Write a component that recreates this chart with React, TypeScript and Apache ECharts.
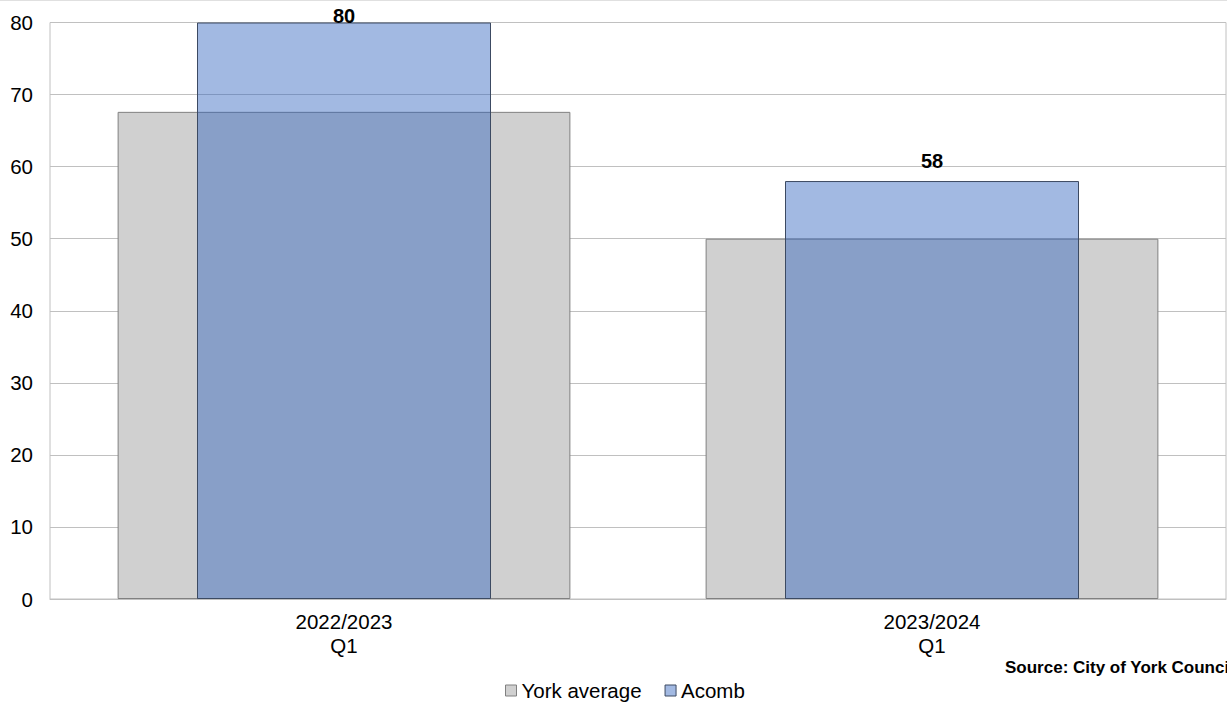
import React, { useEffect, useRef } from "react";
import * as echarts from "echarts";

const categories = ["2022/2023\nQ1", "2023/2024\nQ1"];
const yorkAverage = [67.6, 50];
const acomb = [80, 58];
const yTicks = { min: 0, max: 80, interval: 10 };
const sourceText = "Source: City of York Council";

export default function App() {
  const ref = useRef<HTMLDivElement>(null);
  useEffect(() => {
    const chart = echarts.init(ref.current!, null, { renderer: "svg" });
    const font = "Arial, 'Liberation Sans', sans-serif";
    const acombData = acomb.map((v, i) =>
      i === 0 ? { value: v, label: { position: "insideTop", distance: -17 } } : { value: v }
    );
    chart.setOption({
      animation: false,
      backgroundColor: "#ffffff",
      grid: { left: 50, right: 1, top: 22.5, bottom: 104, show: true, borderColor: "#c0c0c0", borderWidth: 1 },
      legend: {
        top: 680,
        left: 505,
        padding: 0,
        itemWidth: 11,
        itemHeight: 11,
        itemGap: 23,
        textStyle: { fontSize: 20.5, color: "#000", fontFamily: font, padding: [0, 0, 0, 0] },
        data: [
          { name: "York average", icon: "rect", itemStyle: { color: "#d0d0d0", borderColor: "#808080", borderWidth: 1 } },
          { name: "Acomb", icon: "rect", itemStyle: { color: "#a2b9e2", borderColor: "#3c4a62", borderWidth: 1 } },
        ],
      },
      xAxis: [
        {
          type: "category",
          data: categories,
          axisLine: { lineStyle: { color: "#c0c0c0" } },
          axisTick: { show: false },
          axisLabel: { fontSize: 20.5, color: "#000", fontFamily: font, lineHeight: 24, margin: 10 },
        },
        { type: "category", data: categories, show: false },
      ],
      yAxis: {
        type: "value",
        min: yTicks.min,
        max: yTicks.max,
        interval: yTicks.interval,
        axisLine: { show: false },
        axisTick: { show: false },
        splitLine: { lineStyle: { color: "#c0c0c0" } },
        axisLabel: { fontSize: 20.5, color: "#000", fontFamily: font, margin: 17 },
      },
      series: [
        {
          name: "York average",
          type: "bar",
          xAxisIndex: 0,
          data: yorkAverage,
          barWidth: "77%",
          itemStyle: { color: "#d0d0d0", borderColor: "#808080", borderWidth: 1 },
        },
        {
          name: "Acomb",
          type: "bar",
          xAxisIndex: 1,
          data: acombData,
          barWidth: "50%",
          itemStyle: { color: "rgba(47,98,190,0.447)", borderColor: "#3c4a62", borderWidth: 1 },
          label: {
            show: true,
            position: "top",
            distance: 10,
            fontSize: 20,
            fontWeight: "bold",
            color: "#000",
            fontFamily: font,
          },
        },
      ],
      graphic: [
        { type: "line", shape: { x1: 0, y1: 0.5, x2: 1227, y2: 0.5 }, style: { stroke: "#e0e0e0", lineWidth: 1 } },
        {
          type: "text",
          left: 1005,
          top: 659,
          style: { text: sourceText, fontSize: 17, fontWeight: "bold", fill: "#000", fontFamily: font },
        },
      ],
    });
    return () => chart.dispose();
  }, []);
  return (
    <div
      ref={ref}
      style={{ position: "fixed", left: 0, top: 0, width: 1227, height: 703, overflow: "hidden" }}
    />
  );
}
